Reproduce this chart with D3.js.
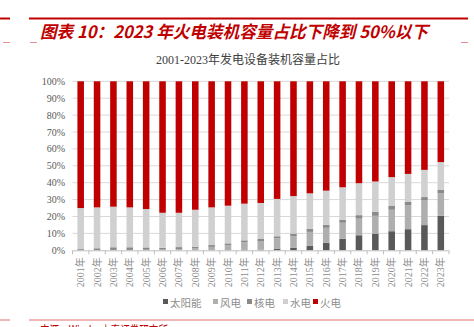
<!DOCTYPE html>
<html>
<head>
<meta charset="utf-8">
<style>
  body { margin: 0; background: #fff; }
  svg { display: block; }
</style>
</head>
<body>
<script src="https://cdn.jsdelivr.net/npm/d3@7"></script>
<script>
// Shares of installed capacity, %
const years = d3.range(2001, 2024).map(y => `${y}年`)
const solar   = [0, 0, 0, 0, 0, 0, 0, 0, 0, 0, 0.2, 0.3, 1.0, 1.4, 2.6, 4.4, 6.9, 8.9, 9.9, 11.3, 12.5, 14.9, 20.4]
const wind    = [0.1, 0.1, 0.2, 0.2, 0.3, 0.4, 0.7, 1.1, 2.0, 3.0, 4.5, 5.2, 6.1, 6.9, 8.3, 8.9, 9.4, 9.8, 10.5, 12.7, 14.1, 14.6, 13.3]
const nuclear = [0.6, 1.1, 1.6, 1.6, 1.4, 1.1, 1.2, 1.0, 1.1, 1.1, 1.2, 1.2, 1.2, 1.6, 1.8, 1.8, 1.8, 2.1, 2.4, 2.2, 2.2, 2.0, 2.0]
const hydro   = [24.3, 24.2, 24.0, 23.6, 22.7, 20.7, 20.3, 21.9, 22.3, 22.3, 21.7, 21.3, 22.1, 22.2, 21.0, 20.2, 19.2, 18.9, 17.9, 17.1, 16.4, 16.1, 16.5]
const thermal = [75.0, 74.6, 74.2, 74.6, 75.6, 77.8, 77.8, 76.0, 74.6, 73.6, 72.4, 72.0, 69.6, 67.9, 66.3, 64.7, 62.7, 60.3, 59.3, 56.7, 54.8, 52.4, 47.8]
const seriesNames = ['太阳能', '风电', '核电', '水电', '火电']
const seriesColors = ['#595959', '#afafaf', '#8a8a8a', '#d0d0d0', '#c00000']
const yTicks = d3.range(0, 101, 10)

const W = 474, H = 327
const margin = { left: 72.5, right: 25, top: 81.3, bottom: 76.7 }
const serif = '"Liberation Serif", "Noto Sans CJK SC", serif'
const cjk = '"Noto Sans CJK SC", sans-serif'

const rows = years.map((y, i) => ({
  year: y, '太阳能': solar[i], '风电': wind[i], '核电': nuclear[i], '水电': hydro[i], '火电': thermal[i]
}))
const stacked = d3.stack().keys(seriesNames)(rows)

const svg = d3.select('body').append('svg')
  .attr('width', W).attr('height', H)

// Header rule and title
const red = '#c00000'
svg.append('line').attr('x1', 0).attr('x2', 10).attr('y1', 18.5).attr('y2', 18.5)
  .attr('stroke', red).attr('stroke-width', 2)
svg.append('line').attr('x1', 29).attr('x2', 468).attr('y1', 18.5).attr('y2', 18.5)
  .attr('stroke', red).attr('stroke-width', 2)
svg.append('text')
  .attr('x', 40).attr('y', 38)
  .attr('fill', red)
  .attr('font-family', cjk)
  .attr('font-size', 17)
  .attr('font-weight', 'bold')
  .attr('font-style', 'italic')
  .attr('textLength', 388)
  .attr('lengthAdjust', 'spacingAndGlyphs')
  .text('图表 10：2023 年火电装机容量占比下降到 50%以下')
for (const [a, b] of [[3, 10], [30, 37], [461, 468]])
  svg.append('line').attr('x1', a).attr('x2', b).attr('y1', 42.5).attr('y2', 42.5)
    .attr('stroke', '#e89090').attr('stroke-width', 1)

// Chart subtitle
svg.append('text')
  .attr('x', 248).attr('y', 64)
  .attr('text-anchor', 'middle')
  .attr('fill', '#404040')
  .attr('font-family', serif)
  .attr('font-size', 12)
  .text('2001-2023年发电设备装机容量占比')

const x = d3.scaleBand().domain(years).range([margin.left, W - margin.right]).paddingInner(0.6).paddingOuter(0.3)
const y = d3.scaleLinear().domain([0, 100]).range([H - margin.bottom, margin.top])

// Gridlines
svg.append('g')
  .selectAll('line')
  .data(yTicks.slice(1))
  .join('line')
  .attr('x1', margin.left).attr('x2', W - margin.right)
  .attr('y1', d => y(d)).attr('y2', d => y(d))
  .attr('stroke', '#d9d9d9').attr('stroke-width', 1)

// Y labels
svg.append('g')
  .selectAll('text')
  .data(yTicks)
  .join('text')
  .attr('x', 65).attr('y', d => y(d) + 3.5)
  .attr('text-anchor', 'end')
  .attr('fill', '#595959')
  .attr('font-family', serif)
  .attr('font-size', 10)
  .text(d => d + '%')

// Bars
svg.append('g')
  .selectAll('g')
  .data(stacked)
  .join('g')
  .attr('fill', (d, i) => seriesColors[i])
  .selectAll('rect')
  .data(d => d)
  .join('rect')
  .attr('x', d => x(d.data.year))
  .attr('width', x.bandwidth())
  .attr('y', d => y(d[1]))
  .attr('height', d => y(d[0]) - y(d[1]))

// X axis
const x0 = margin.left, yBase = y(0)
svg.append('line').attr('x1', x0).attr('x2', W - margin.right)
  .attr('y1', yBase + 0.5).attr('y2', yBase + 0.5).attr('stroke', '#bfbfbf')
svg.append('g')
  .selectAll('line')
  .data(d3.range(years.length + 1))
  .join('line')
  .attr('x1', i => x0 + i * (W - margin.right - x0) / years.length)
  .attr('x2', i => x0 + i * (W - margin.right - x0) / years.length)
  .attr('y1', yBase).attr('y2', yBase + 4)
  .attr('stroke', '#bfbfbf')
svg.append('g')
  .selectAll('text')
  .data(years)
  .join('text')
  .attr('transform', d => `translate(${x(d) + x.bandwidth() / 2 + 3.5},${yBase + 7}) rotate(-90)`)
  .attr('text-anchor', 'end')
  .attr('fill', '#8c8c8c')
  .attr('font-family', serif)
  .attr('font-size', 10)
  .text(d => d)

// Legend
const legendX = [163, 213, 247, 283, 313]
const legend = svg.append('g')
  .selectAll('g')
  .data(seriesNames)
  .join('g')
  .attr('transform', (d, i) => `translate(${legendX[i]},303)`)
legend.append('rect')
  .attr('x', 0).attr('y', -4).attr('width', 5).attr('height', 5)
  .attr('fill', (d, i) => seriesColors[i])
legend.append('text')
  .attr('x', 7).attr('y', 4)
  .attr('fill', '#8c8c8c')
  .attr('font-family', cjk)
  .attr('font-size', 10.5)
  .text(d => d)

// Footer rule and source (cut by the bottom edge, as in the original)
svg.append('line').attr('x1', 0).attr('x2', 10).attr('y1', 320).attr('y2', 320)
  .attr('stroke', '#e07070').attr('stroke-width', 1)
svg.append('line').attr('x1', 29).attr('x2', W).attr('y1', 320).attr('y2', 320)
  .attr('stroke', '#e07070').attr('stroke-width', 1)
svg.append('text')
  .attr('x', 40).attr('y', 335)
  .attr('fill', red)
  .attr('font-family', cjk)
  .attr('font-size', 13)
  .attr('textLength', 128)
  .attr('lengthAdjust', 'spacingAndGlyphs')
  .text('来源：Wind，中泰证券研究所')
</script>
</body>
</html>
